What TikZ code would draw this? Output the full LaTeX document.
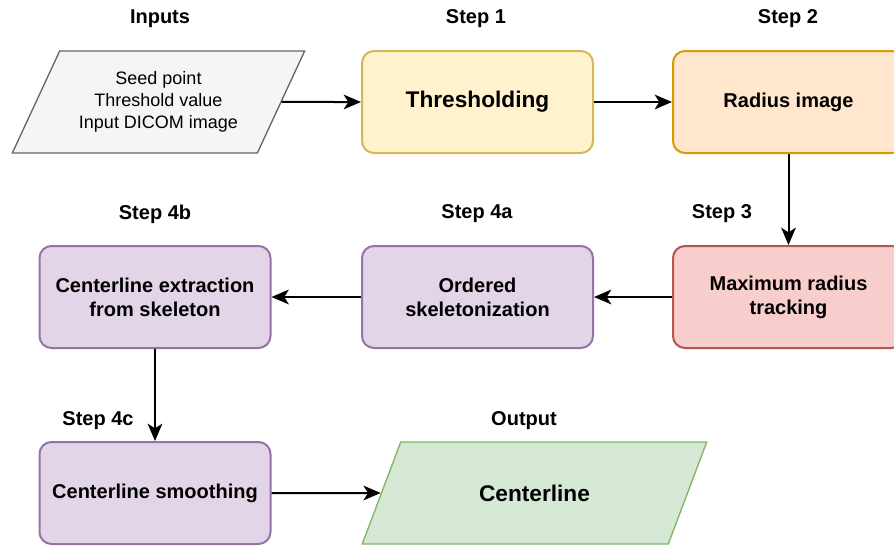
\documentclass[tikz,border=0pt]{standalone}
\usepackage{fontspec}
\setmainfont{Liberation Sans}
\usetikzlibrary{arrows.meta,positioning,shapes.geometric}

\definecolor{inputfill}{HTML}{F5F5F5}
\definecolor{inputdraw}{HTML}{666666}
\definecolor{thrfill}{HTML}{FFF2CC}
\definecolor{thrdraw}{HTML}{D6B656}
\definecolor{radfill}{HTML}{FFE6CC}
\definecolor{raddraw}{HTML}{D79B00}
\definecolor{maxfill}{HTML}{F8CECC}
\definecolor{maxdraw}{HTML}{B85450}
\definecolor{skelfill}{HTML}{E1D5E7}
\definecolor{skeldraw}{HTML}{9673A6}
\definecolor{outfill}{HTML}{D5E8D4}
\definecolor{outdraw}{HTML}{82B366}

\begin{document}
\begin{tikzpicture}[x=0.75pt,y=-0.75pt,
  box/.style={draw,rounded corners=9pt,line width=1.5pt,minimum width=173.25pt,
    minimum height=76.5pt,align=center,font=\bfseries\fontsize{15}{18}\selectfont},
  io/.style={trapezium,trapezium stretches=true,trapezium left angle=60,
    trapezium right angle=120,minimum height=76.5pt,line width=1pt,align=center},
  steplabel/.style={font=\bfseries\fontsize{15}{18}\selectfont},
  flow/.style={-{Stealth[length=13pt,width=11pt,inset=3.5pt]},line width=1.5pt}]
  \clip (0,0) rectangle (894,546);

  % boxes
  \node[io,draw=inputdraw,fill=inputfill,minimum width=219.75pt,
        font=\fontsize{13.5}{16.5}\selectfont] (inp) at (158.5,102)
    {Seed point\\Threshold value\\Input DICOM image};
  \node[box,draw=thrdraw,fill=thrfill,font=\bfseries\fontsize{17}{20}\selectfont]
    (thr) at (477.5,102) {Thresholding};
  \node[box,draw=raddraw,fill=radfill] (rad) at (788.5,102) {Radius image};
  \node[box,draw=maxdraw,fill=maxfill] (maxr) at (788.5,297) {Maximum radius\\tracking};
  \node[box,draw=skeldraw,fill=skelfill] (skel) at (477.5,297) {Ordered\\skeletonization};
  \node[box,draw=skeldraw,fill=skelfill] (extr) at (155,297) {Centerline extraction\\from skeleton};
  \node[box,draw=skeldraw,fill=skelfill] (smooth) at (155,493) {Centerline smoothing};
  \node[io,draw=outdraw,fill=outfill,trapezium left angle=56,trapezium right angle=124,
        minimum width=258.75pt,font=\bfseries\fontsize{17}{20}\selectfont]
    (outp) at (534.5,493) {Centerline};

  % labels
  \node[steplabel] (linp) at (160,19) {Inputs};
  \node[steplabel] (lone) at (476,19) {Step 1};
  \node[steplabel] (ltwo) at (788,19) {Step 2};
  \node[steplabel] (lthree) at (722,214) {Step 3};
  \node[steplabel] (lfoura) at (477,214) {Step 4a};
  \node[steplabel] (lfourb) at (155,214) {Step 4b};
  \node[steplabel] (lfourc) at (98,421) {Step 4c};
  \node[steplabel] (lout) at (524,421) {Output};

  % connectors
  \draw[flow] (inp.east) -- (thr.west);
  \draw[flow] (thr.east) -- (rad.west);
  \draw[flow] (rad.south) -- (maxr.north);
  \draw[flow] (maxr.west) -- (skel.east);
  \draw[flow] (skel.west) -- (extr.east);
  \draw[flow] (extr.south) -- (smooth.north);
  \draw[flow] (smooth.east) -- (outp.west);
\end{tikzpicture}
\end{document}
